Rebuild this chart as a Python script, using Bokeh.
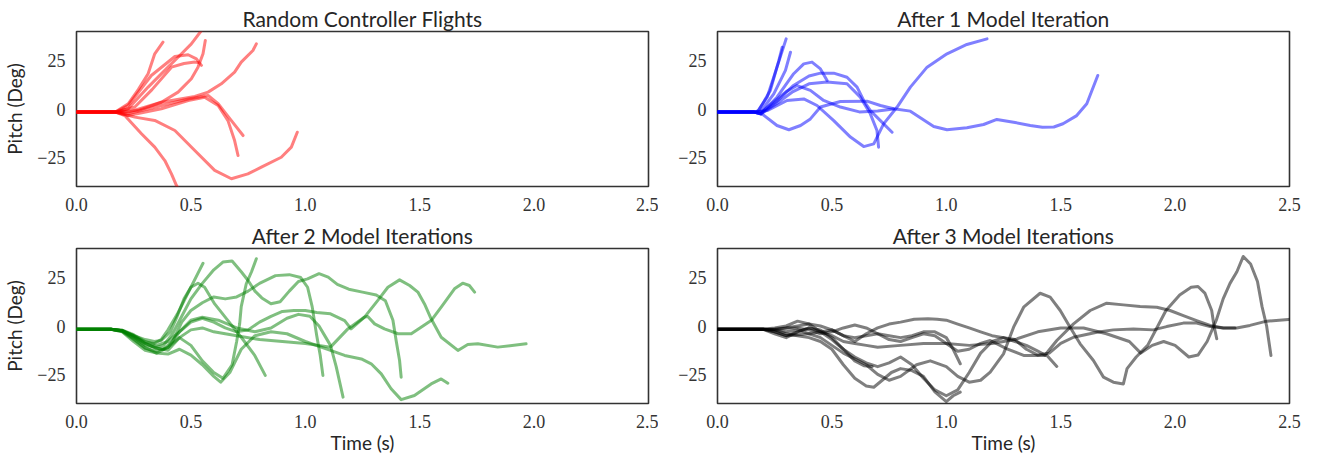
from bokeh.plotting import figure
from bokeh.layouts import gridplot
from bokeh.models import Range1d, FixedTicker
from bokeh.embed import file_html
from bokeh.resources import INLINE

# ---------------- data (time s, pitch deg) ----------------
x_ticks = [0.0, 0.5, 1.0, 1.5, 2.0, 2.5]
x_tick_labels = ["0.0", "0.5", "1.0", "1.5", "2.0", "2.5"]
y_ticks = [-25, 0, 25]
y_tick_labels = ["\u221225", "0", "25"]
titles = ["Random Controller Flights", "After 1 Model Iteration",
          "After 2 Model Iterations", "After 3 Model Iterations"]

red_t = [
    [0, 0.17, 0.226, 0.27, 0.313, 0.342, 0.378],
    [0, 0.17, 0.226, 0.313, 0.4, 0.459, 0.502, 0.546],
    [0, 0.17, 0.269, 0.371, 0.444, 0.502, 0.531, 0.553, 0.563],
    [0, 0.17, 0.226, 0.327, 0.43, 0.488, 0.524, 0.546],
    [0, 0.17, 0.255, 0.33, 0.415, 0.47, 0.517, 0.53],
    [0, 0.17, 0.226, 0.371, 0.517, 0.575, 0.633, 0.691, 0.72, 0.771, 0.786],
    [0, 0.17, 0.226, 0.371, 0.488, 0.575, 0.619, 0.677, 0.728],
    [0, 0.17, 0.226, 0.371, 0.488, 0.56, 0.619, 0.662, 0.691, 0.706],
    [0, 0.17, 0.211, 0.284, 0.342, 0.386, 0.415, 0.437, 0.445],
    [0, 0.17, 0.255, 0.342, 0.43, 0.517, 0.604, 0.677, 0.749, 0.808, 0.895, 0.939, 0.965],
]
red_p = [
    [-1.6, -1.6, 2.7, 10, 18.2, 28.5, 34.5],
    [-1.6, -1.6, 0.1, 11.3, 21.6, 28.5, 33.6, 40.5],
    [-1.6, -1.6, -0.8, 3.5, 8.7, 15.6, 21.6, 28.5, 35.4],
    [-1.6, -1.6, 1.8, 17.3, 27.1, 28, 25.9, 22.5],
    [-1.6, -1.6, 1, 10, 21.6, 23.5, 24.2, 24],
    [-1.6, -1.6, -1.6, 3.5, 6.5, 8.7, 13, 19, 24.2, 30.2, 33.6],
    [-1.6, -1.6, -2.5, 1.8, 5.2, 7, 2.7, -6, -13.7],
    [-1.6, -1.6, -3.4, 0.1, 4.4, 6.1, 1.8, -6, -16.3, -24],
    [-1.6, -1.6, -3.4, -12.8, -19.7, -26.6, -33.5, -39.5, -41],
    [-1.6, -1.6, -4.2, -5.9, -11.1, -21.4, -31.7, -36, -33.5, -30, -24.9, -19.7, -12],
]

blue_t = [
    [0, 0.16, 0.173, 0.217, 0.26, 0.3],
    [0, 0.16, 0.18, 0.231, 0.268, 0.283],
    [0, 0.16, 0.188, 0.246, 0.297, 0.319],
    [0, 0.16, 0.188, 0.26, 0.333, 0.377, 0.413, 0.45, 0.479],
    [0, 0.16, 0.19, 0.26, 0.33, 0.4, 0.45, 0.508, 0.566, 0.61, 0.639, 0.668, 0.712, 0.763],
    [0, 0.16, 0.19, 0.26, 0.33, 0.4, 0.479, 0.566, 0.624, 0.668, 0.697, 0.704],
    [0, 0.16, 0.217, 0.304, 0.377, 0.435, 0.508, 0.581, 0.639, 0.683, 0.726, 0.785,
     0.843, 0.916, 1.003, 1.09, 1.178],
    [0, 0.16, 0.2, 0.26, 0.312, 0.363, 0.406, 0.45, 0.537, 0.653, 0.712, 0.77, 0.843,
     0.945, 1.003, 1.09, 1.163, 1.221, 1.294, 1.367, 1.42, 1.47, 1.51, 1.57, 1.614, 1.662],
    [0, 0.16, 0.2, 0.25, 0.3, 0.348, 0.406, 0.464, 0.537, 0.62, 0.7, 0.77],
]
blue_p = [
    [-1.6, -1.6, -1.6, 6.1, 21.6, 36.2],
    [-1.6, -1.6, -0.8, 9.6, 25, 31.9],
    [-1.6, -1.6, -1.6, 7.8, 19.9, 29.3],
    [-1.6, -1.6, -2.5, 6.1, 18.2, 23.3, 24.2, 20.7, 14.7],
    [-1.6, -1.6, -2.5, 4, 12, 17, 18.5, 18.5, 16.4, 11.3, 4.4, -0.8, -6, -12],
    [-1.6, -1.6, -2.5, 3, 9, 13, 13.9, 13, 6.1, -2.5, -11.1, -19.7],
    [-1.6, -1.6, -0.8, 4.4, 5.2, 1.8, -6, -14.5, -19.4, -18, -7.7, 1,
     11.3, 21.6, 28.5, 33.3, 36.2],
    [-1.6, -1.6, -3, -8.5, -10.7, -8.5, -5.1, 1, 3.9, 4.05, 1.8, 0.1, -1.1,
     -9, -10.7, -9.7, -8, -5.4, -6.8, -8.5, -9.4, -9.3, -7.6, -3.4, 2.7, 17.3],
    [-1.6, -1.6, -1, 4, 9, 12.1, 9.6, 4.4, 1, -1.5, -1, 0],
]

green_t = [
    [0, 0.15, 0.2, 0.25, 0.3, 0.34, 0.37, 0.40, 0.44, 0.47, 0.5, 0.53, 0.553],
    [0, 0.15, 0.2, 0.25, 0.3, 0.35, 0.4, 0.45, 0.5, 0.55, 0.6, 0.64, 0.68, 0.7,
     0.713, 0.72, 0.742, 0.765, 0.786],
    [0, 0.15, 0.2, 0.25, 0.3, 0.34, 0.37, 0.41, 0.44, 0.47, 0.5, 0.531, 0.56, 0.604,
     0.662, 0.72, 0.779, 0.825],
    [0, 0.15, 0.2, 0.25, 0.3, 0.35, 0.38, 0.42, 0.46, 0.5, 0.55, 0.6, 0.65, 0.7, 0.75,
     0.8, 0.87, 0.93, 0.98, 1.01, 1.03, 1.05, 1.065, 1.077],
    [0, 0.15, 0.2, 0.25, 0.3, 0.35, 0.4, 0.45, 0.5, 0.55, 0.62, 0.7, 0.78, 0.85, 0.92,
     0.97, 1.02, 1.06, 1.09, 1.11, 1.135, 1.165],
    [0, 0.15, 0.2, 0.25, 0.3, 0.35, 0.38, 0.42, 0.46, 0.5, 0.55, 0.6, 0.64, 0.68, 0.72,
     0.75, 0.78, 0.81, 0.85, 0.89, 0.93, 0.97, 1.01, 1.06, 1.1, 1.14, 1.19, 1.25, 1.31,
     1.35, 1.383, 1.397, 1.412, 1.419],
    [0, 0.15, 0.2, 0.25, 0.3, 0.35, 0.4, 0.45, 0.5, 0.55, 0.6, 0.63, 0.67, 0.72, 0.78,
     0.85, 0.92, 1.0, 1.11, 1.172, 1.245, 1.288, 1.332, 1.375, 1.419, 1.477, 1.55,
     1.594, 1.623],
    [0, 0.15, 0.2, 0.25, 0.3, 0.35, 0.4, 0.45, 0.5, 0.55, 0.6, 0.65, 0.7, 0.75, 0.8,
     0.85, 0.9, 0.95, 1.0, 1.05, 1.11, 1.172, 1.2, 1.259, 1.273, 1.303, 1.346, 1.405,
     1.463, 1.506, 1.55, 1.594, 1.652, 1.688, 1.717, 1.74],
    [0, 0.15, 0.2, 0.25, 0.3, 0.35, 0.4, 0.45, 0.5, 0.55, 0.6, 0.7, 0.8, 0.9, 1.0,
     1.11, 1.186, 1.259, 1.317, 1.361, 1.412, 1.456, 1.492, 1.521, 1.55, 1.594, 1.667,
     1.71, 1.754, 1.841, 1.965],
]
green_p = [
    [-1.7, -1.7, -2.2, -5, -8.5, -9, -7, -2, 6, 13, 20, 27, 32.4],
    [-1.7, -1.7, -3, -8, -12.5, -14, -11, -6, -10, -18, -24, -27, -20, -8,
     1, 10, 21.8, 28, 34.7],
    [-1.7, -1.7, -2.5, -5, -7, -8, -7.5, -3, 5, 14, 20, 22.1, 20, 11.4,
     2.8, -5.8, -15.2, -25.5],
    [-1.7, -1.7, -2.5, -5, -9, -11.5, -12, -8, 2, 8, 12, 15, 14, 15, 18,
     22, 26, 26.5, 25, 20, 10, -5, -15, -25.5],
    [-1.7, -1.7, -2.8, -7, -11.5, -13, -11, -3, 3, 4.5, 3, -1, -3, -1, 4,
     6, 5, 0, -6, -10, -21, -36.7],
    [-1.7, -1.7, -2.5, -6, -10, -11, -10, -4, 5, 14, 22, 29, 33, 33.5, 28,
     23.5, 18, 14.5, 11.5, 12.5, 18, 23, 24.3, 27, 25.2, 21.5, 19, 17.5, 16,
     13, 3, -7.5, -17.8, -26.4],
    [-1.7, -1.7, -2.6, -6.5, -11, -14, -14.5, -12, -15, -20, -26, -29, -24, -12, -5,
     -3, -4, -8, -12.6, -15.2, -17, -19.5, -24.7, -32.4, -38, -35.9, -29.9,
     -27.3, -29.5],
    [-1.7, -1.7, -2.2, -4.5, -8, -10, -8, -3, 2, 4, 2, -1, -3, -2, 2,
     5, 7.5, 8, 8, 7, 6.3, 2.8, -1.5, 4.6, 4.9, 1.1, -1.5, -4,
     -4, -0.6, 2.8, 9.7, 19.2, 22.1, 20.9, 17.5],
    [-1.7, -1.7, -2.4, -5.5, -9, -11.5, -12.5, -6, -2, -1, -3, -5, -7, -8, -9,
     -10.9, -1.5, 4.6, 13.2, 20, 23.8, 20.9, 17.5, 11.4, 3.7, -5.8, -12.6,
     -9.5, -9.2, -10.9, -9.2],
]

black_t = [
    [0, 0.2, 0.25, 0.3, 0.35, 0.4, 0.45, 0.5, 0.55, 0.6, 0.65, 0.7, 0.75, 0.8, 0.87,
     0.93, 1.0, 1.05, 1.1, 1.15, 1.192, 1.25, 1.294, 1.338, 1.41, 1.454, 1.498, 1.541,
     1.585, 1.643, 1.687, 1.73, 1.774, 1.79, 1.83, 1.88, 1.92, 1.96, 2.02, 2.07, 2.1,
     2.13, 2.16, 2.17, 2.182],
    [0, 0.2, 0.25, 0.3, 0.35, 0.4, 0.45, 0.5, 0.55, 0.6, 0.65, 0.7, 0.8, 0.9, 1.0,
     1.1, 1.2, 1.3, 1.4, 1.5, 1.6, 1.7, 1.8, 1.85, 1.9, 1.95, 2.0, 2.06, 2.1, 2.14,
     2.18, 2.21, 2.24, 2.27, 2.298, 2.33, 2.36, 2.38, 2.4, 2.419],
    [0, 0.2, 0.25, 0.3, 0.4, 0.5, 0.55, 0.6, 0.65, 0.7, 0.75, 0.8, 0.86, 0.92, 0.96,
     1.0, 1.05, 1.1, 1.15, 1.2, 1.25, 1.3, 1.35, 1.4, 1.45, 1.5, 1.556, 1.658, 1.73,
     1.818, 1.905, 1.963, 2.036, 2.094, 2.153, 2.211, 2.269, 2.327, 2.4, 2.495, 2.55],
    [0, 0.2, 0.25, 0.3, 0.35, 0.4, 0.45, 0.5, 0.55, 0.6, 0.65, 0.7, 0.75, 0.8, 0.85,
     0.9, 0.95, 1.0, 1.05, 1.1, 1.15, 1.2, 1.25, 1.3, 1.35, 1.4, 1.432, 1.483, 1.556,
     1.629, 1.701, 1.774, 1.847, 1.92, 1.978, 2.036, 2.094, 2.153, 2.211, 2.262],
    [0, 0.2, 0.25, 0.3, 0.35, 0.4, 0.45, 0.5, 0.55, 0.6, 0.65, 0.7, 0.75, 0.8, 0.85,
     0.9, 0.95, 1.0, 1.05, 1.1, 1.15, 1.192, 1.265, 1.338, 1.44, 1.483],
    [0, 0.2, 0.25, 0.3, 0.35, 0.4, 0.45, 0.5, 0.55, 0.6, 0.64, 0.676],
    [0, 0.2, 0.25, 0.3, 0.35, 0.4, 0.45, 0.5, 0.55, 0.6, 0.65, 0.7, 0.75, 0.8, 0.85,
     0.9, 0.95, 1.0, 1.03, 1.061],
    [0, 0.2, 0.25, 0.3, 0.35, 0.4, 0.45, 0.5, 0.55, 0.6, 0.65, 0.683, 0.72, 0.76, 0.8,
     0.85, 0.9, 0.95, 1.0, 1.03, 1.061],
]
black_p = [
    [-1.7, -1.7, -2, -3, -2, -4, -6, -10, -14, -17, -20, -25, -28, -26, -20,
     -18, -21, -26, -29, -28, -23.8, -14.4, -0.6, 9.7, 16.9, 14.9, 8, -0.6,
     -9.2, -17.8, -26.4, -29, -29.9, -22, -16, -10, -1, 8, 16, 20, 20.4,
     17, 8, 0, -6.6],
    [-1.7, -1.7, -1, 0, 2.5, 1, -3, -5, -8, -9, -10, -11, -10, -9, -9,
     -10, -9, -7, -3, -1, -1, -4, -8, -14, -10, -8, -10, -16, -15, -8,
     3, 14, 22, 28, 35.9, 32, 23, 10, 0, -15.2],
    [-1.7, -1.7, -3, -5, -4, -2, -5, -8, -4, -1, 1, 2, 3.5, 3.7, 3.5,
     3, 1, -1, -3, -5, -6, -7, -12, -15, -14, -9, -5.8, -3.2, -2,
     -1.5, -2, -0.3, 1.5, 1.5, -0.3, -1, -1, 0.3, 2.5, 3.4, 3.8],
    [-1.7, -1.7, -4, -6, -3, -1, -2, -6, -12, -16, -19, -21, -19, -16, -20,
     -27, -33, -36, -33, -24, -14, -8, -6, -8, -10, -13, -15, -7.5, 1.1,
     8, 11.8, 10.9, 10.1, 9.7, 8, 5.4, 2.8, 0.3, -1, -1],
    [-1.7, -1.7, -2, -1, -1, -2, -4, -3, -1, 0.5, -1, -4, -7, -8, -6,
     -4, -5, -9, -13, -12, -9, -7.5, -11.8, -15.2, -15.2, -20.9],
    [-1.7, -1.7, -3, -5, -3, -1, -3, -7, -12, -18, -20.5, -20.9],
    [-1.7, -1.7, -1.5, -1, 0, 1, 0, -2, -5, -6, -5, -4, -5, -6, -5,
     -3, -3, -6, -12, -19.5],
    [-1.7, -1.7, -2, -4, -5, -6, -8, -12, -20, -27, -31, -31.6, -28, -24, -22,
     -23, -26, -34, -39, -36, -34.1],
]

TEXT = "#262626"


def make_panel(title, ts, ps, color, width, height, left, right, top, bottom,
               ylabel, xlabel):
    p = figure(width=width, height=height, x_range=Range1d(0, 2.5),
               y_range=Range1d(-40, 40), output_backend="svg",
               toolbar_location=None, title=title,
               min_border_left=left, min_border_right=right,
               min_border_top=top, min_border_bottom=bottom)
    for t, y in zip(ts, ps):
        p.line(t, y, line_color=color, line_alpha=0.5, line_width=3,
               line_join="round", line_cap="round")
    p.title.text_font = "Lato"
    p.title.text_font_size = "21px"
    p.title.text_font_style = "normal"
    p.title.text_color = TEXT
    p.title.align = "center"
    p.title.standoff = 2
    p.grid.visible = False
    p.outline_line_color = "#333333"
    p.outline_line_width = 1.6
    p.xaxis.ticker = FixedTicker(ticks=x_ticks)
    p.xaxis.major_label_overrides = {v: s for v, s in zip(x_ticks, x_tick_labels)}
    p.yaxis.ticker = FixedTicker(ticks=y_ticks)
    p.yaxis.major_label_overrides = {v: s for v, s in zip(y_ticks, y_tick_labels)}
    for ax in (p.xaxis[0], p.yaxis[0]):
        ax.axis_line_color = None
        ax.major_tick_line_color = None
        ax.minor_tick_line_color = None
        ax.major_label_text_font = "Liberation Serif"
        ax.major_label_text_font_size = "18px"
        ax.major_label_text_color = "#333333"
        ax.axis_label_text_font = "Lato"
        ax.axis_label_text_font_size = "19px"
        ax.axis_label_text_font_style = "normal"
        ax.axis_label_text_color = TEXT
    p.xaxis.major_label_standoff = 5
    p.yaxis.major_label_standoff = 5
    if ylabel:
        p.yaxis.axis_label = ylabel
        p.yaxis.axis_label_standoff = 8
    if xlabel:
        p.xaxis.axis_label = xlabel
        p.xaxis.axis_label_standoff = 0
    return p


p1 = make_panel(titles[0], red_t, red_p, "#ff0000", 658, 216, 75, 10, 31, 30,
                "Pitch (Deg)", None)
p2 = make_panel(titles[1], blue_t, blue_p, "#0000ff", 664, 216, 59, 33, 31, 30,
                None, None)
p3 = make_panel(titles[2], green_t, green_p, "#008000", 658, 240, 75, 10, 32, 53,
                "Pitch (Deg)", "Time (s)")
p4 = make_panel(titles[3], black_t, black_p, "#000000", 664, 240, 59, 33, 32, 53,
                None, "Time (s)")

grid = gridplot([[p1, p2], [p3, p4]], toolbar_location=None)
open("out.html", "w").write(file_html(grid, INLINE))
